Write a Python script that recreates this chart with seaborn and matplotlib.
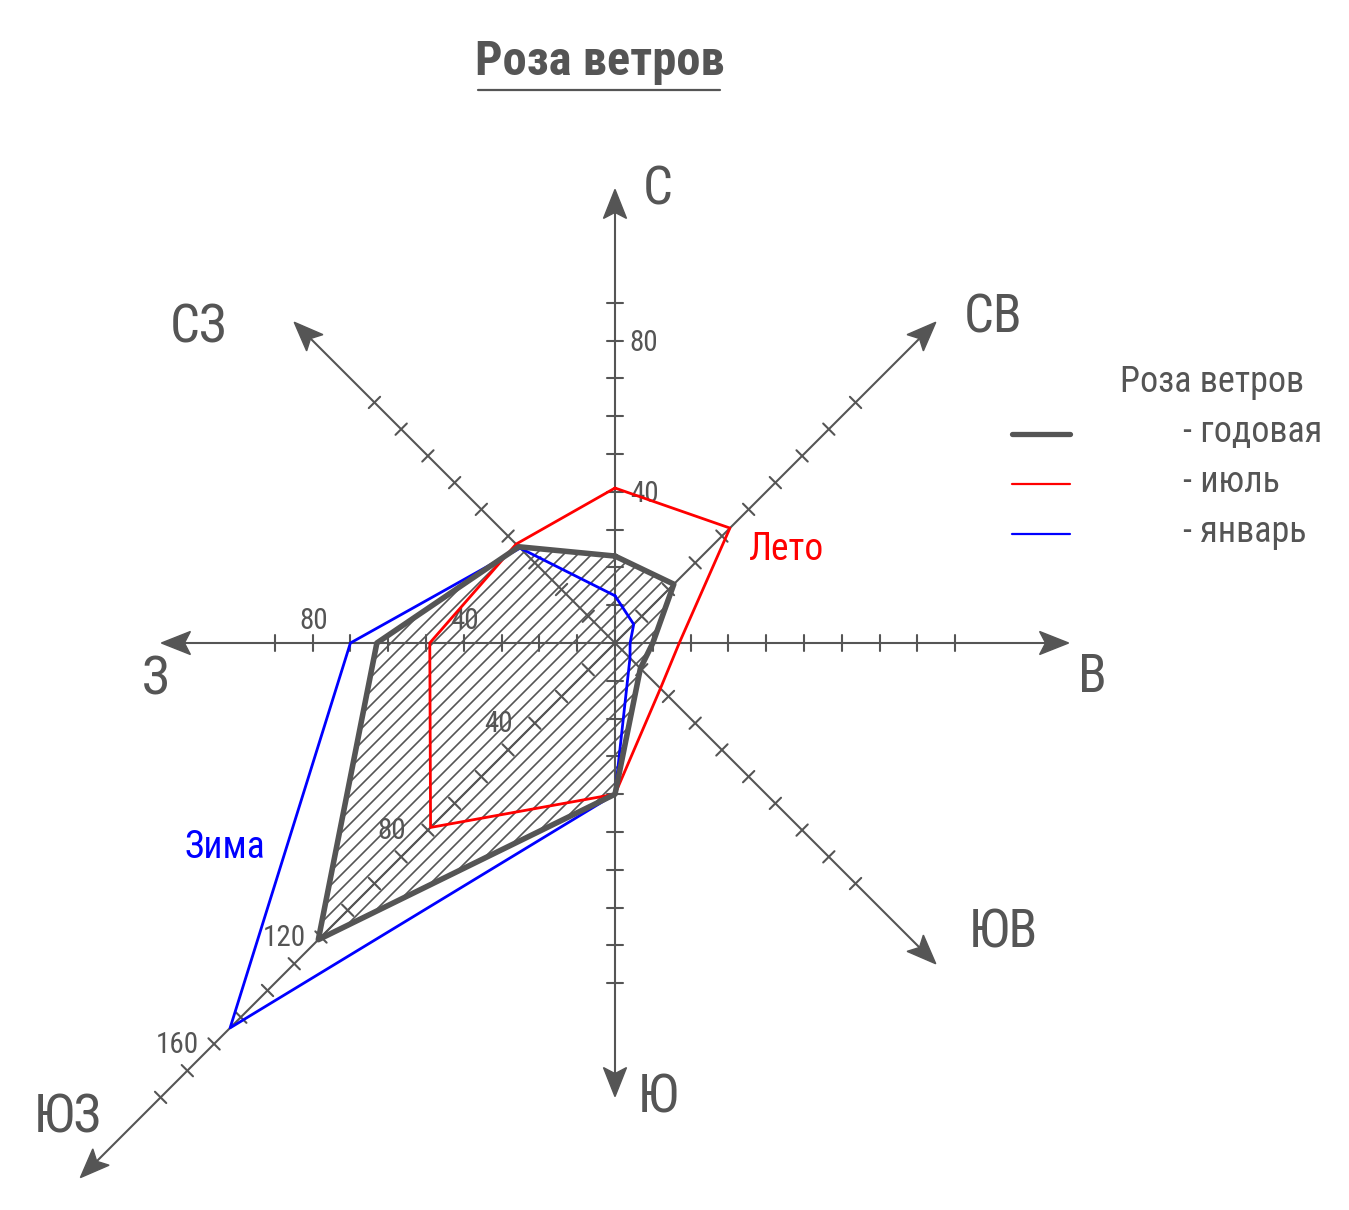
import numpy as np
import pandas as pd
import seaborn as sns
import matplotlib.pyplot as plt
from matplotlib import font_manager
from matplotlib.patches import Polygon
from matplotlib.lines import Line2D

sns.set_theme(style="white")

# pick a condensed face if there is one, otherwise Roboto a bit smaller
have = {f.name for f in font_manager.fontManager.ttflist}
narrow = [f for f in ["Roboto Condensed", "Liberation Sans Narrow", "Arial Narrow",
                      "Open Sans Condensed"] if f in have]
if narrow:
    FONT, K = narrow[0], 1.0
else:
    FONT, K = "Roboto", 0.86
plt.rcParams['font.family'] = [FONT, 'DejaVu Sans']

# rumbs (compass directions) and their angle on the drawing
directions = ["С", "СВ", "В", "ЮВ", "Ю", "ЮЗ", "З", "СЗ"]
angles_deg = [90, 45, 0, -45, -90, -135, 180, 135]

# wind frequency per direction
annual = [23, 22, 10, 9.5, 40, 111, 63, 36]      # годовая
july = [41, 43, 17, 17, 40, 69, 49, 37]          # июль
january = [12.5, 7, 4, 5.6, 40, 144, 70, 35.5]   # январь

# axis lengths, last tick and labelled ticks for each direction
axis_len = [120, 120, 120, 120, 120, 200, 120, 120]
tick_last = [90, 90, 90, 90, 90, 170, 90, 90]
tick_labels = {"С": [40, 80], "З": [40, 80], "ЮЗ": [40, 80, 120, 160]}

W, H = 1349, 1210
cx, cy = 615, 643      # centre of rose in pixels
S = 3.78               # pixels per unit
GRAY = "#555555"


def px(x, y):
    # pixel position -> data coords (for text layout only)
    return (x - cx) / S, (cy - y) / S


def unit(a):
    t = np.deg2rad(a)
    return np.array([np.cos(t), np.sin(t)]), np.array([-np.sin(t), np.cos(t)])


def polygon_df(values):
    xs, ys = [], []
    for v, a in zip(values + values[:1], angles_deg + angles_deg[:1]):
        u, _ = unit(a)
        xs.append(v * u[0])
        ys.append(v * u[1])
    return pd.DataFrame({"x": xs, "y": ys})


fig = plt.figure(figsize=(W / 100, H / 100), dpi=100)
ax = fig.add_axes([0, 0, 1, 1])
ax.set_xlim(-cx / S, (W - cx) / S)
ax.set_ylim(-(H - cy) / S, cy / S)
ax.axis("off")

# ---- axes with ticks and arrowheads ----
tick_h = 8 / S
for d, a, L, tl in zip(directions, angles_deg, axis_len, tick_last):
    u, p = unit(a)
    end = (L - 6 / S) * u
    ax.plot([0, end[0]], [0, end[1]], color=GRAY, lw=1.5, zorder=2)
    for r in range(10, tl + 1, 10):
        c = r * u
        ax.plot([c[0] - tick_h * p[0], c[0] + tick_h * p[0]],
                [c[1] - tick_h * p[1], c[1] + tick_h * p[1]],
                color=GRAY, lw=1.5, zorder=2)
    tip = L * u
    back = (L - 29 / S) * u
    notch = (L - 23 / S) * u
    hw = 11.5 / S
    head = [tip, back + hw * p, notch, back - hw * p]
    ax.add_patch(Polygon(head, closed=True, fc=GRAY, ec=GRAY, lw=1, zorder=3))

# tick labels
for d, vals in tick_labels.items():
    a = angles_deg[directions.index(d)]
    u, p = unit(a)
    for v in vals:
        c = v * u
        if d == "С":
            pos = c + np.array([29, -2]) / S
        elif d == "З":
            pos = c + np.array([1, 22]) / S
        else:
            pos = (v - 3) * u + np.array([-18, 18]) / S
        ax.text(pos[0], pos[1], str(v), color=GRAY, fontsize=21 * K,
                ha="center", va="center", zorder=4)

# compass labels
label_px = {"С": (658, 190), "СВ": (993, 318), "В": (1092, 678), "ЮВ": (1003, 933),
            "Ю": (658, 1098), "ЮЗ": (68, 1118), "З": (155, 680), "СЗ": (198, 328)}
for d in directions:
    x, y = px(*label_px[d])
    ax.text(x, y, d, color=GRAY, fontsize=38 * K, ha="center", va="center")

# ---- hatched annual polygon ----
ann = polygon_df(annual)
patch = Polygon(ann[["x", "y"]].values, closed=True, fc="none", ec="none")
ax.add_patch(patch)
step = 14 / S
lo, hi = ax.get_xlim()
for c in np.arange(-200, 200, step):
    ln, = ax.plot([lo, hi], [lo + c, hi + c], color=GRAY, lw=1.2, zorder=1)
    ln.set_clip_path(patch)

# ---- rose polygons ----
sns.lineplot(data=polygon_df(january), x="x", y="y", sort=False, estimator=None,
             color="#0000ff", lw=2.0, ax=ax, zorder=5)
sns.lineplot(data=polygon_df(july), x="x", y="y", sort=False, estimator=None,
             color="#ff0000", lw=2.0, ax=ax, zorder=5)
sns.lineplot(data=ann, x="x", y="y", sort=False, estimator=None,
             color=GRAY, lw=4.0, ax=ax, zorder=6)
ax.set_xlabel("")
ax.set_ylabel("")

x, y = px(786, 549)
ax.text(x, y, "Лето", color="#ff0000", fontsize=27 * K, ha="center", va="center")
x, y = px(225, 848)
ax.text(x, y, "Зима", color="#0000ff", fontsize=27 * K, ha="center", va="center")

# ---- title ----
fig.text(600 / W, 1 - 62 / H, "Роза ветров", color=GRAY, fontsize=35 * K,
         fontweight="bold", ha="center", va="center")
fig.add_artist(Line2D([478 / W, 720 / W], [1 - 90 / H, 1 - 90 / H],
                      color=GRAY, lw=1.6, transform=fig.transFigure))

# ---- legend ----
fig.text(1120 / W, 1 - 382 / H, "Роза ветров", color=GRAY, fontsize=26 * K,
         ha="left", va="center")
leg = [("- годовая", GRAY, 3.8, 434), ("- июль", "#ff0000", 1.6, 484),
       ("- январь", "#0000ff", 1.6, 534)]
for txt, col, lw, yy in leg:
    fig.add_artist(Line2D([1012 / W, 1070 / W], [1 - yy / H, 1 - yy / H],
                          color=col, lw=lw, solid_capstyle="round",
                          transform=fig.transFigure))
    fig.text(1183 / W, 1 - (yy - 2) / H, txt, color=GRAY, fontsize=26 * K,
             ha="left", va="center")

fig.savefig("out.png", dpi=100, facecolor="white")
